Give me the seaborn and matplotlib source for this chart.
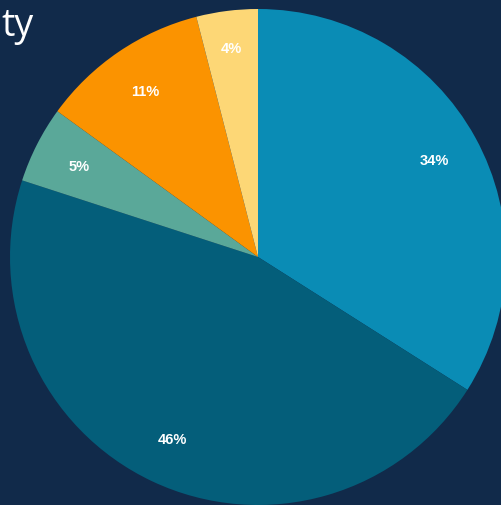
import matplotlib
matplotlib.use("Agg")
import matplotlib.pyplot as plt
import seaborn as sns

# slice shares, clockwise from 12 o'clock
groups = ["A", "B", "C", "D", "E"]
shares = [34, 46, 5, 11, 4]
colors = ["#0a8cb5", "#045e7a", "#5aa899", "#fb9300", "#fdd776"]
bg = "#112a4a"

sns.set_theme(style="white")
plt.rcParams["font.family"] = ["Liberation Sans", "DejaVu Sans"]

fig = plt.figure(figsize=(5.02, 5.06), dpi=100, facecolor=bg)
ax = fig.add_axes([0, 0, 1, 1])
ax.set_facecolor(bg)

pal = sns.color_palette(colors)
wedges, texts, autotexts = ax.pie(
    shares, colors=pal, startangle=90, counterclock=False,
    autopct="%1.0f%%", pctdistance=0.81, radius=1,
    wedgeprops={"linewidth": 0},
    textprops={"color": "white", "fontsize": 10.5, "fontweight": "bold"},
)
# small top slice label sits a bit further out
x, y = autotexts[4].get_position()
autotexts[4].set_position((x * 0.85 / 0.81, y * 0.85 / 0.81))

# pie centre sits at (258, 258) px, radius 248 px
ax.set_xlim(-258 / 248, (502 - 258) / 248)
ax.set_ylim(-(506 - 258) / 248, 258 / 248)
ax.set_aspect("auto")
ax.axis("off")

# clipped title fragment in the top-left corner
fig.text(0.002, 0.929, "ty", color="white", fontsize=27,
         family=["Open Sans", "DejaVu Sans"], ha="left", va="baseline")

fig.savefig("out.png", dpi=100, facecolor=bg)
